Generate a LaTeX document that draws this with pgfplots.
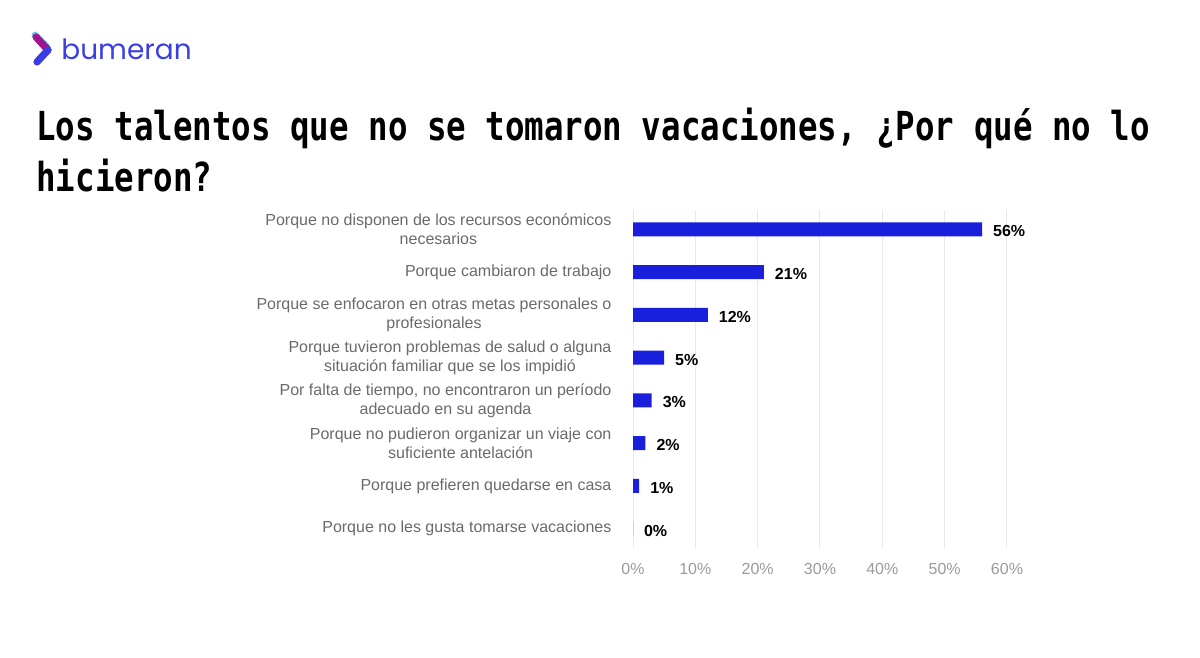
\documentclass[border=0pt]{standalone}
\usepackage{pgfplots}
\pgfplotsset{compat=1.18}
\usepackage{fontspec}
\setmainfont{Liberation Sans}
\newfontfamily\titlefont{DejaVu Sans Mono}
\newfontfamily\logofont{Poppins}
\definecolor{barblue}{HTML}{1A1FDC}
\definecolor{labgray}{HTML}{6A6A6A}
\definecolor{tickgray}{HTML}{9A9A9A}
\definecolor{gridgray}{HTML}{E8E8E8}
\definecolor{logoblue}{HTML}{3A3FE2}
\begin{document}
\begin{tikzpicture}
\path[use as bounding box] (0,0) rectangle (600pt,329pt);
% pixel coordinates of the 1200x658 reference
\begin{scope}[shift={(0pt,329pt)}, x=0.5pt, y=-0.5pt]
  % logo
  \draw[line width=3.4pt, color=cyan!60!white, line cap=round, line join=round] (35,35) -- (47,47);
  \draw[line width=3.6pt, color=magenta!60!blue, line cap=round, line join=round] (36,37) -- (48,50);
  \draw[line width=3.6pt, color=logoblue, line cap=round, line join=round] (48,50) -- (37,62);
  \node[anchor=base west, inner sep=0, text=logoblue, font=\logofont\fontsize{14}{14}\selectfont] at (61,60) {bumeran};
  % title
  \node[anchor=base west, inner sep=0, font=\titlefont\bfseries\fontsize{16}{16}\selectfont] at (36,141)
    {\scalebox{1.014}[1.25]{Los talentos que no se tomaron vacaciones, ¿Por qué no lo}};
  \node[anchor=base west, inner sep=0, font=\titlefont\bfseries\fontsize{16}{16}\selectfont] at (36,192)
    {\scalebox{1.014}[1.25]{hicieron?}};
\end{scope}
\begin{axis}[
  at={(316.5pt,55pt)}, anchor=south west,
  scale only axis, width=187pt, height=169pt,
  xbar, bar width=7pt,
  xmin=0, xmax=60, ymin=-0.45, ymax=7.45, y dir=reverse,
  xtick={0,10,...,60},
  xticklabel={\pgfmathprintnumber{\tick}\%},
  xticklabel style={text=tickgray, font=\fontsize{8}{9.5}\selectfont, yshift=-4pt},
  ytick={0,...,7},
  yticklabels={
    {Porque no disponen de los recursos económicos\\necesarios},
    {Porque cambiaron de trabajo},
    {Porque se enfocaron en otras metas personales o\\profesionales},
    {Porque tuvieron problemas de salud o alguna\\situación familiar que se los impidió},
    {Por falta de tiempo, no encontraron un período\\adecuado en su agenda},
    {Porque no pudieron organizar un viaje con\\suficiente antelación},
    {Porque prefieren quedarse en casa},
    {Porque no les gusta tomarse vacaciones}},
  yticklabel style={text=labgray, align=center, font=\fontsize{8}{9.5}\selectfont, xshift=-3pt},
  axis line style={draw=none}, tick style={draw=none},
  xmajorgrids, grid style={gridgray, line width=0.5pt},
  /pgf/number format/assume math mode=true,
  point meta=x,
  nodes near coords={\pgfmathprintnumber{\pgfplotspointmeta}\%},
  nodes near coords style={font=\bfseries\fontsize{8}{9.5}\selectfont, text=black, anchor=west, xshift=2pt, yshift=-1pt},
]
\addplot[fill=barblue, draw=none] coordinates {
  (56,0) (21,1) (12,2) (5,3) (3,4) (2,5) (1,6) (0,7)};
\end{axis}
\end{tikzpicture}
\end{document}
